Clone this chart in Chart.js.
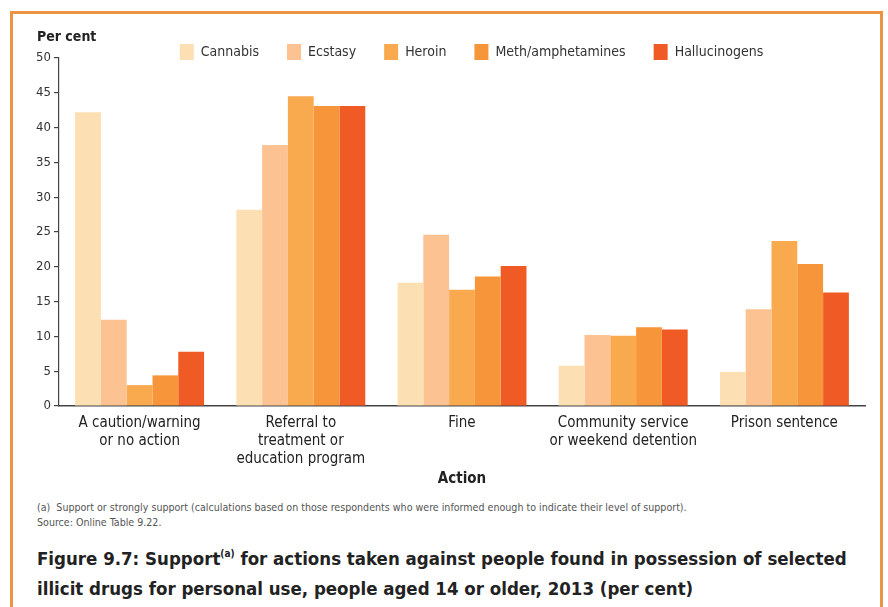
<!DOCTYPE html>
<html>
<head>
<meta charset="utf-8">
<script src="https://cdn.jsdelivr.net/npm/chart.js@4"></script>
<style>
  html, body { margin:0; padding:0; background:#fff; width:888px; height:607px; overflow:hidden; }
  #frame { position:absolute; left:10px; top:11px; width:873px; height:620px; border:3px solid #EC9444; box-sizing:border-box; }
  #wrap { position:absolute; left:0; top:0; width:888px; height:492px; }
  .narrow { font-family:'Liberation Sans Narrow','DejaVu Sans Condensed','Roboto',sans-serif; }
  #ytitle { position:absolute; left:37px; top:28px; font-weight:bold; font-size:14px; color:#222; }
  #foot1 { position:absolute; left:37px; top:501px; font-size:10.6px; color:#555; white-space:nowrap; }
  #foot2 { position:absolute; left:37px; top:516px; font-size:10.6px; color:#555; white-space:nowrap; }
  #cap { position:absolute; left:37px; top:544px; font-size:18.5px; line-height:30px; font-weight:bold; color:#222; white-space:nowrap; }
  #cap sup { font-size:10px; vertical-align:8px; line-height:0; }
</style>
</head>
<body>
<div id="frame"></div>
<div id="wrap"><canvas id="c"></canvas></div>
<div id="ytitle" class="narrow">Per cent</div>
<div id="foot1" class="narrow">(a)&nbsp; Support or strongly support (calculations based on those respondents who were informed enough to indicate their level of support).</div>
<div id="foot2" class="narrow">Source: Online Table 9.22.</div>
<div id="cap" class="narrow">Figure 9.7: Support<sup>(a)</sup> for actions taken against people found in possession of selected<br>illicit drugs for personal use, people aged 14 or older, 2013 (per cent)</div>
<script>
const categories = [
  ['A caution/warning', 'or no action'],
  ['Referral to', 'treatment or', 'education program'],
  'Fine',
  ['Community service', 'or weekend detention'],
  'Prison sentence'
];
const cannabis      = [42.2, 28.2, 17.7, 5.8, 4.9];
const ecstasy       = [12.4, 37.5, 24.6, 10.2, 13.9];
const heroin        = [3.0, 44.5, 16.7, 10.1, 23.7];
const meth          = [4.4, 43.1, 18.6, 11.3, 20.4];
const hallucinogens = [7.8, 43.1, 20.1, 11.0, 16.3];
const seriesNames = ['Cannabis', 'Ecstasy', 'Heroin', 'Meth/amphetamines', 'Hallucinogens'];
const seriesColors = ['#FDDFB4', '#FCC291', '#F9A94E', '#F6953A', '#F05A24'];
const yTicks = [0, 5, 10, 15, 20, 25, 30, 35, 40, 45, 50];

const FONT = "'Liberation Sans Narrow','DejaVu Sans Condensed','Roboto',sans-serif";

const layoutPlugin = {
  id: 'layoutTweaks',
  beforeInit(chart) {
    const lg = chart.legend;
    if (lg) {
      const fit = lg.fit;
      lg.fit = function () { fit.call(this); this.height = 58; };
    }
  },
  afterLayout(chart) {
    const lg = chart.legend;
    if (lg) {
      lg.left += 39; lg.right += 39;
      lg.top += 16; lg.bottom += 16;
    }
  }
};

const allSeries = [cannabis, ecstasy, heroin, meth, hallucinogens];
new Chart(document.getElementById('c'), {
  type: 'bar',
  data: {
    labels: categories,
    datasets: allSeries.map((d, i) => ({
      label: seriesNames[i],
      data: d,
      backgroundColor: seriesColors[i],
      borderWidth: 0,
      categoryPercentage: 0.8,
      barPercentage: 1.0
    }))
  },
  options: {
    responsive: true,
    maintainAspectRatio: false,
    animation: false,
    devicePixelRatio: 1,
    layout: { padding: { left: 0, right: 23, top: 0, bottom: 0 } },
    plugins: {
      legend: {
        position: 'top',
        labels: {
          boxWidth: 14, boxHeight: 16, padding: 28,
          color: '#333',
          font: { family: FONT, size: 14 }
        }
      },
      tooltip: { enabled: false }
    },
    scales: {
      x: {
        grid: { display: false, drawTicks: false },
        border: { display: true, color: '#444', width: 1.5 },
        ticks: { color: '#222', font: { family: FONT, size: 15, lineHeight: 1.2 }, padding: 8, maxRotation: 0, autoSkip: false },
        title: { display: true, text: 'Action', color: '#222', font: { family: FONT, size: 15, weight: 'bold' }, padding: { top: 4, bottom: 4 } },
        afterFit(s) { s.height = 86; }
      },
      y: {
        min: 0, max: 50,
        afterBuildTicks(s) { s.ticks = yTicks.map(v => ({ value: v })); },
        grid: { drawOnChartArea: false, drawTicks: true, tickLength: 5, color: '#444', lineWidth: 1.2 },
        border: { display: true, color: '#444', width: 1.2 },
        ticks: { color: '#333', font: { family: FONT, size: 13 }, padding: 3 },
        afterFit(s) { s.width = 59; }
      }
    }
  },
  plugins: [layoutPlugin]
});
</script>
</body>
</html>
